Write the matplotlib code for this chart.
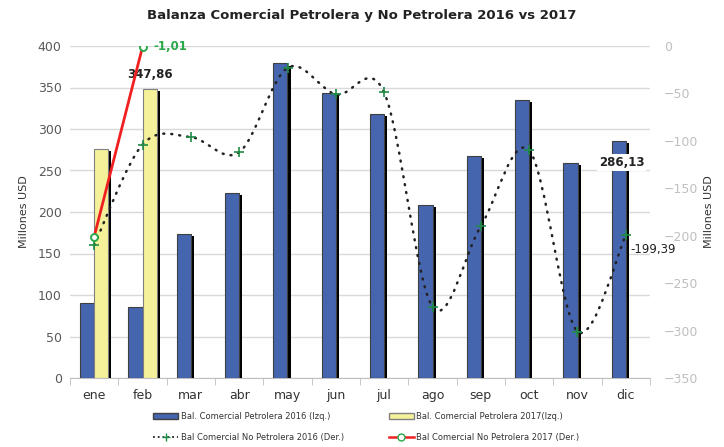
import numpy as np
import matplotlib
matplotlib.use("Agg")
import matplotlib.pyplot as plt
import matplotlib.patheffects as pe
from matplotlib.path import Path
from matplotlib.patches import PathPatch, Patch
from matplotlib.lines import Line2D

meses = ['ene', 'feb', 'mar', 'abr', 'may', 'jun', 'jul', 'ago', 'sep', 'oct', 'nov', 'dic']
petrolera_2016 = [90, 86, 173, 223, 379, 343, 318, 209, 268, 335, 259, 286.13]
petrolera_2017 = [276, 347.86]
no_petrolera_2016 = [-210, -104, -96, -112, -23, -51, -49, -275, -190, -110, -301, -199.39]
no_petrolera_2017 = [-201, -1.01]

azul = '#4565AE'
amarillo = '#F4F19A'
gris = '#595959'

fig = plt.figure(figsize=(7.24, 4.47), dpi=100)
ax = fig.add_axes([70/724, 1-378/447, 580/724, 332/447])
ax2 = ax.twinx()

x = np.arange(len(meses))
w = 0.29
sombra = [pe.SimplePatchShadow(offset=(2.2, -1.5), shadow_rgbFace='k', alpha=1), pe.Normal()]

b1 = ax.bar(x - w/2, petrolera_2016, w, color=azul, edgecolor='#404040', linewidth=0.8, zorder=3)
b2 = ax.bar(x[:len(petrolera_2017)] + w/2, petrolera_2017, w, color=amarillo,
            edgecolor='#808080', linewidth=0.8, zorder=3)
for b in list(b1) + list(b2):
    b.set_path_effects(sombra)

ax.set_ylim(0, 400)
ax.set_yticks(np.arange(0, 401, 50))
ax.set_xlim(-0.5, 11.5)
ax.set_xticks(x)
ax.set_xticklabels(meses)
ax.set_xticks(np.arange(-0.5, 12, 1), minor=True)
ax.tick_params(axis='x', which='major', length=0, pad=8, labelsize=9, colors='#333333')
ax.tick_params(axis='x', which='minor', length=5, color='#BFBFBF', direction='out')
ax.tick_params(axis='y', length=0, labelsize=9, colors=gris, pad=6)
ax.grid(axis='y', color='#D9D9D9', linewidth=1, zorder=0)
for s in ['top', 'right', 'left']:
    ax.spines[s].set_visible(False)
    ax2.spines[s].set_visible(False)
ax.spines['bottom'].set_color('#BFBFBF')
ax2.spines['bottom'].set_visible(False)
ax.set_ylabel('Millones USD', fontsize=8, color='#333333', labelpad=6)

ax2.set_ylim(-350, 0)
ax2.set_yticks(np.arange(-350, 1, 50))
ax2.tick_params(axis='y', length=0, labelsize=9, colors='#BFBFBF', pad=10)
ax2.set_ylabel('Millones USD', fontsize=8, color='#333333', labelpad=4)

# curva suavizada (Catmull-Rom -> Bezier) como en Excel
pts = np.column_stack([x, no_petrolera_2016]).astype(float)
verts = [pts[0]]
codes = [Path.MOVETO]
n = len(pts)
for i in range(n - 1):
    p0 = pts[max(i - 1, 0)]
    p1 = pts[i]
    p2 = pts[i + 1]
    p3 = pts[min(i + 2, n - 1)]
    c1 = p1 + (p2 - p0) / 6
    c2 = p2 - (p3 - p1) / 6
    verts += [c1, c2, p2]
    codes += [Path.CURVE4] * 3
curva = PathPatch(Path(verts, codes), fill=False, edgecolor='#222222', linewidth=1.8,
                  linestyle=(0, (0.4, 2.8)), capstyle='round', zorder=4)
ax2.add_patch(curva)
ax2.plot(x, no_petrolera_2016, linestyle='none', marker='+', markersize=6.5,
         markeredgewidth=1.2, color='#1E8C45', zorder=5)

ax2.plot(x[:len(no_petrolera_2017)], no_petrolera_2017, color='#F02020', linewidth=2,
         marker='o', markersize=5, markerfacecolor='white', markeredgecolor='#2AA84A',
         markeredgewidth=1.4, zorder=6)

# etiquetas
ax.annotate('347,86', (1 + w/2, petrolera_2017[1]), xytext=(0, 6), textcoords='offset points',
            ha='center', va='bottom', fontsize=8.5, fontweight='bold', color='#222222')
ax.annotate('286,13', (11 - w/2, petrolera_2016[11]), xytext=(2, -16), textcoords='offset points',
            ha='center', va='center', fontsize=8.5, fontweight='bold', color='#222222', zorder=7,
            bbox=dict(boxstyle='square,pad=0.15', facecolor='white', edgecolor='none'))
ax2.annotate('-1,01', (1, no_petrolera_2017[1]), xytext=(8, 0), textcoords='offset points',
             ha='left', va='center', fontsize=8.5, fontweight='bold', color='#2AA84A')
ax2.annotate('-199,39', (11, no_petrolera_2016[11]), xytext=(3, -10), textcoords='offset points',
             ha='left', va='center', fontsize=8.5, color='#222222')

fig.text(0.5, 1 - 16/447, 'Balanza Comercial Petrolera y No Petrolera 2016 vs 2017',
         ha='center', va='center', fontsize=9.5, fontweight='bold', color='#222222')

handles = [
    Patch(facecolor=azul, edgecolor='#404040'),
    Line2D([], [], color='#222222', linestyle=':', linewidth=1.3, marker='+',
           markeredgecolor='#1E8C45', markersize=6),
    Patch(facecolor=amarillo, edgecolor='#808080'),
    Line2D([], [], color='#F02020', linewidth=1.8, marker='o', markerfacecolor='white',
           markeredgecolor='#2AA84A', markersize=5),
]
labels = ['Bal. Comercial Petrolera 2016 (Izq.)', 'Bal Comercial No Petrolera 2016 (Der.)',
          'Bal. Comercial Petrolera 2017(Izq.)', 'Bal Comercial No Petrolera 2017 (Der.)']
fig.legend(handles, labels, ncol=2, loc='center', bbox_to_anchor=(0.506, 1 - 427/447),
           frameon=False, fontsize=6, columnspacing=5.4, handlelength=3.0,
           handletextpad=0.3, labelspacing=1.4, labelcolor='#333333')

fig.savefig('out.png', dpi=100)
